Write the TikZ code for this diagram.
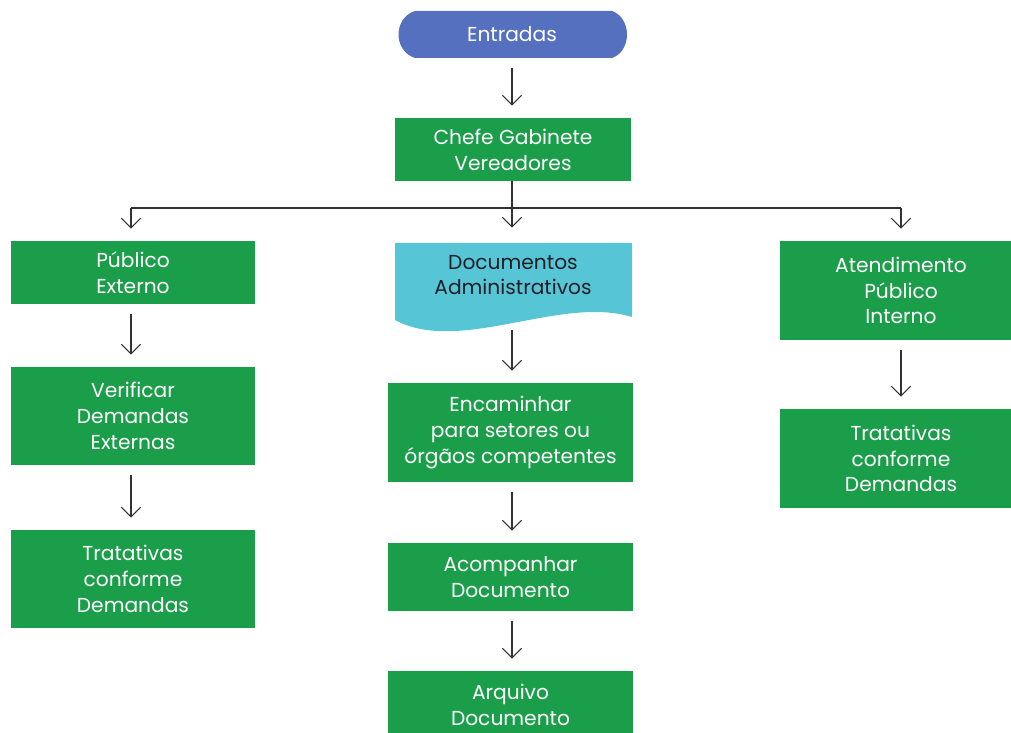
\documentclass[tikz,border=0pt]{standalone}
\usepackage{fontspec}
\setmainfont{Poppins}
\usetikzlibrary{arrows.meta, positioning}
\definecolor{boxgreen}{RGB}{27,158,74}
\definecolor{startblue}{RGB}{84,112,191}
\definecolor{docteal}{RGB}{86,198,214}
\definecolor{doctext}{RGB}{30,30,40}
\definecolor{linegray}{RGB}{50,50,50}

\begin{document}
\begin{tikzpicture}[
    x=0.02cm, y=-0.02cm,
    >={Straight Barb[length=5.5pt, width=11pt]},
    flow/.style={->, linegray, line width=0.6pt, shorten <=0.2cm, shorten >=0.24cm},
    greenbox/.style={fill=boxgreen, text=white, align=center, inner sep=0pt,
        font=\fontsize{11.5}{14.7}\selectfont},
    label/.style={text=white, align=center, font=\fontsize{11.5}{14.7}\selectfont},
]
\useasboundingbox (0,0) rectangle (1011,733);
\clip (0,0) rectangle (1011,733);

% === ENTRADAS ===
\fill[startblue] (415,11) -- (612,11) .. controls (632,18) and (632,51) .. (612,58)
    -- (415,58) .. controls (393,51) and (393,18) .. (415,11);
\node[label, minimum height=0.94cm] (entradas) at (512,34.5) {Entradas};

% === CHEFE ===
\node[greenbox, minimum width=4.74cm, minimum height=1.26cm] (chefe) at (513,149.5) {Chefe Gabinete\\Vereadores};

% === DOCUMENTOS ===
\fill[docteal] (395,243) -- (632,243) -- (632,317)
    .. controls (560,295) and (460,355) .. (395,320) -- cycle;
\node[minimum width=4.74cm, minimum height=1.54cm, inner sep=0pt] (docs) at (513.5,281.5) {};
\node[text=doctext, align=center, font=\fontsize{11.5}{14.7}\selectfont] (docstext) at (513,275) {Documentos\\Administrativos};

% === COLUMNA IZQUIERDA ===
\node[greenbox, minimum width=4.88cm, minimum height=1.26cm] (publico) at (133,272.5) {Público\\Externo};
\node[greenbox, minimum width=4.88cm, minimum height=1.96cm] (verificar) at (133,416) {Verificar\\Demandas\\Externas};
\node[greenbox, minimum width=4.88cm, minimum height=1.96cm] (tratesq) at (133,579) {Tratativas\\conforme\\Demandas};

% === COLUMNA CENTRAL ===
\node[greenbox, minimum width=4.9cm, minimum height=1.98cm] (encaminhar) at (510.5,432.5) {Encaminhar\\para setores ou\\órgãos competentes};
\node[greenbox, minimum width=4.9cm, minimum height=1.36cm] (acompanhar) at (510.5,577) {Acompanhar\\Documento};
\node[greenbox, minimum width=4.9cm, minimum height=1.36cm] (arquivo) at (510.5,705) {Arquivo\\Documento};

% === COLUMNA DERECHA ===
\node[greenbox, minimum width=4.84cm, minimum height=1.98cm] (atendimento) at (901,290.5) {Atendimento\\Público\\Interno};
\node[greenbox, minimum width=4.84cm, minimum height=1.98cm] (tratdir) at (901,458.5) {Tratativas\\conforme\\Demandas};

% === FLECHAS ===
\coordinate (split) at (512,208);
\coordinate (splitl) at (131,208);
\coordinate (splitr) at (901,208);
\draw[flow] (entradas.south -| split) -- (chefe.north -| split);
\draw[linegray, line width=0.6pt] (splitl) -- (splitr);
\draw[flow, shorten <=0pt, shorten >=0.3cm] (chefe.south -| split) -- (split |- docs.north);
\draw[flow, shorten <=0pt] (splitl) -- (splitl |- publico.north);
\draw[flow, shorten <=0pt] (splitr) -- (splitr |- atendimento.north);
\draw[flow] (publico.south -| splitl) -- (verificar.north -| splitl);
\draw[flow] (verificar.south -| splitl) -- (tratesq.north -| splitl);
\draw[flow] (docs.south -| split) -- (encaminhar.north -| split);
\draw[flow] (encaminhar.south -| split) -- (acompanhar.north -| split);
\draw[flow] (acompanhar.south -| split) -- (arquivo.north -| split);
\draw[flow] (atendimento) -- (tratdir);

\end{tikzpicture}
\end{document}
